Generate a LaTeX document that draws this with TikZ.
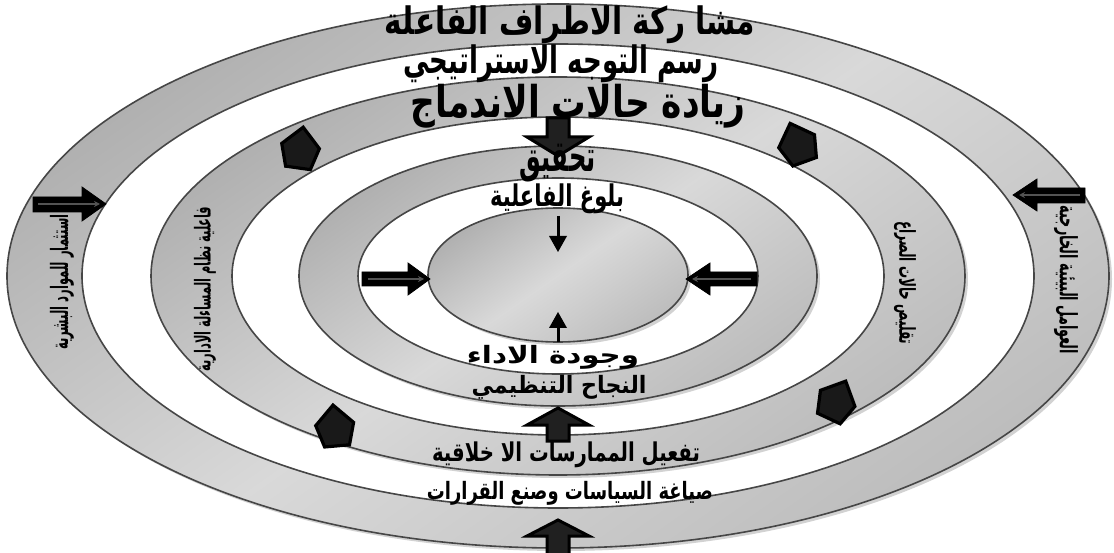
\documentclass[tikz,border=0pt]{standalone}
\usepackage{fontspec}
\usepackage{graphicx}
\usetikzlibrary{arrows.meta}
\TeXXeTstate=1
\newfontfamily\arfont[Script=Arabic]{DejaVu Sans}
\newcommand\fitar[3]{\resizebox*{#1}{#2}{\arfont\bfseries #3}}
\tikzset{
  ringshade/.style={draw=gray!55!black, line width=1.6pt,
    top color=gray!62, bottom color=gray!52, middle color=gray!30, shading angle=35},
  hole/.style={fill=white, draw=gray!55!black, line width=1.6pt},
  ringshadow/.style={fill=gray!35},
  blockarrow/.style={fill=gray!25!black, draw=black, line width=3pt, line join=miter},
  blackarrow/.style={fill=black, draw=black, line width=0.8pt, line join=miter},
  innerline/.style={draw=gray!65!black, line width=1.3pt},
  pentstyle/.style={fill=gray!20!black, draw=black, line width=3.2pt, line join=miter},
  txt/.style={inner sep=0pt, outer sep=0pt}
}
\begin{document}
\begin{tikzpicture}[x=1pt,y=-1pt]
\useasboundingbox (0,0) rectangle (1114,553);
\clip (0,0) rectangle (1114,553);
% ---------- rings ----------
\coordinate (c) at (558,276);
% outer ring
\fill[ringshadow] (561,279) ellipse [x radius=551pt, y radius=272pt];
\path[ringshade] (c) ellipse [x radius=551pt, y radius=272pt];
\path[hole] (c) ellipse [x radius=476pt, y radius=232pt];
% ring 2
\fill[ringshadow] (561,279) ellipse [x radius=407pt, y radius=199pt];
\path[ringshade] (c) ellipse [x radius=407pt, y radius=199pt];
\path[hole] (c) ellipse [x radius=326pt, y radius=159pt];
% ring 3
\fill[ringshadow] (561,279) ellipse [x radius=259pt, y radius=130pt];
\path[ringshade] (c) ellipse [x radius=259pt, y radius=130pt];
\path[hole] (c) ellipse [x radius=200pt, y radius=98pt];
% centre
\fill[ringshadow] (561,278) ellipse [x radius=130pt, y radius=67pt];
\path[ringshade] (558,275) ellipse [x radius=130pt, y radius=67pt];
% ---------- pentagons ----------
\begin{scope}[shift={(300,150)},rotate=-8]
  \draw[pentstyle] (0,-23) -- (19,-4) -- (13,18) -- (-12,18) -- (-19,-4) -- cycle;
\end{scope}
\begin{scope}[shift={(798,145)},rotate=20]
  \draw[pentstyle] (0,-23) -- (19,-4) -- (13,18) -- (-12,18) -- (-19,-4) -- cycle;
\end{scope}
\begin{scope}[shift={(335,428)},rotate=5]
  \draw[pentstyle] (0,-23) -- (19,-4) -- (13,18) -- (-12,18) -- (-19,-4) -- cycle;
\end{scope}
\begin{scope}[shift={(836,402)},rotate=-25]
  \draw[pentstyle] (0,-23) -- (19,-4) -- (13,18) -- (-12,18) -- (-19,-4) -- cycle;
\end{scope}
% ---------- block arrows ----------
\draw[blockarrow] (547,118) -- (569,118) -- (569,137) -- (589,137) -- (558,156) -- (527,137) -- (547,137) -- cycle;
\draw[blockarrow] (558,408) -- (589,425) -- (569,425) -- (569,441) -- (547,441) -- (547,425) -- (527,425) -- cycle;
\draw[blockarrow] (558,520) -- (589,536) -- (569,536) -- (569,560) -- (547,560) -- (547,536) -- (527,536) -- cycle;
% thin vertical arrows
\draw[black, line width=3pt] (558,216) -- (558,238);
\fill[black] (549,236) -- (567,236) -- (558,252) -- cycle;
\draw[black, line width=3pt] (558,342) -- (558,326);
\fill[black] (549,328) -- (567,328) -- (558,312) -- cycle;
% horizontal arrows to centre
\path[blackarrow] (362,272) -- (408,272) -- (408,263) -- (430,279) -- (408,295) -- (408,286) -- (362,286) -- cycle;
\draw[innerline,-{Stealth[length=6pt,width=6pt]}] (368,279) -- (424,279);
\path[blackarrow] (757,272) -- (710,272) -- (710,263) -- (686,279) -- (710,295) -- (710,286) -- (757,286) -- cycle;
\draw[innerline,-{Stealth[length=6pt,width=6pt]}] (751,279) -- (692,279);
% outer arrows
\path[blackarrow] (33,197) -- (82,197) -- (82,187) -- (106,204) -- (82,221) -- (82,212) -- (33,212) -- cycle;
\draw[innerline,-{Stealth[length=6pt,width=6pt]}] (38,204) -- (100,204);
\path[blackarrow] (1085,188) -- (1037,188) -- (1037,179) -- (1013,195) -- (1037,211) -- (1037,203) -- (1085,203) -- cycle;
\draw[innerline,-{Stealth[length=6pt,width=6pt]}] (1080,195) -- (1019,195);
% ---------- texts ----------
\node[txt] (t1) at (570,25) {\fitar{370pt}{38pt}{\beginR مشا ركة الاطراف الفاعلة\endR}};
\node[txt] (t2) at (561,64) {\fitar{315pt}{38pt}{\beginR رسم التوجه الاستراتيجي\endR}};
\node[txt] (t3) at (578,106) {\fitar{335pt}{44pt}{\beginR زيادة حالات الاندماج\endR}};
\node[txt] (t4) at (558,163) {\fitar{76pt}{38pt}{\beginR تحقيق\endR}};
\node[txt] (t5) at (557,199) {\fitar{134pt}{30pt}{\beginR بلوغ الفاعلية\endR}};
\node[txt] (t6) at (553,357) {\fitar{172pt}{24pt}{\beginR وجودة الاداء\endR}};
\node[txt] (t7) at (559,387) {\fitar{175pt}{24pt}{\beginR النجاح التنظيمي\endR}};
\node[txt] (t8) at (566,455) {\fitar{268pt}{26pt}{\beginR تفعيل الممارسات الا خلاقية\endR}};
\node[txt] (t9) at (570,493) {\fitar{286pt}{24pt}{\beginR صياغة السياسات وصنع القرارات\endR}};
\node[txt, rotate=90] (s1) at (62,282) {\fitar{135pt}{24pt}{\beginR استثمار للموارد البشرية\endR}};
\node[txt, rotate=90] (s2) at (205,289) {\fitar{165pt}{22pt}{\beginR فاعلية نظام المساءلة الادارية\endR}};
\node[txt, rotate=-90] (s3) at (905,283) {\fitar{123pt}{22pt}{\beginR تقليص حالات الصراع\endR}};
\node[txt, rotate=-90] (s4) at (1066,280) {\fitar{148pt}{24pt}{\beginR العوامل البيئية الخارجية\endR}};
\end{tikzpicture}
\end{document}
